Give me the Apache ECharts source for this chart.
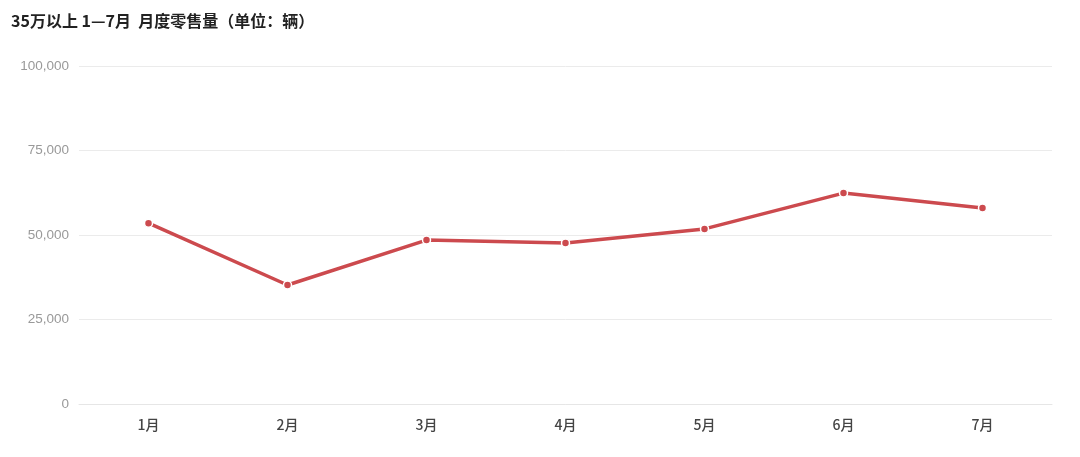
<!DOCTYPE html>
<html><head><meta charset="utf-8">
<script src="https://cdn.jsdelivr.net/npm/echarts@6/dist/echarts.min.js"></script>
<style>html,body{margin:0;padding:0;background:#fff}#c{width:1080px;height:457px}</style>
</head><body><div id="c"></div>
<script>
const categories = ['1月','2月','3月','4月','5月','6月','7月'];
const sales = [53500, 35200, 48500, 47600, 51800, 62400, 58000];
const titleText = '35万以上 1—7月  月度零售量（单位：辆）';
const chart = echarts.init(document.getElementById('c'));
chart.setOption({
  animation: false,
  title: { text: titleText, left: 6, top: 8, textStyle: { fontFamily: '"Noto Sans CJK SC", sans-serif', fontSize: 16, fontWeight: 'bold', color: '#222' } },
  grid: { left: 79, right: 28, top: 66, bottom: 53 },
  xAxis: {
    type: 'category', data: categories, boundaryGap: true,
    axisLine: { lineStyle: { color: '#e6e6e6' } }, axisTick: { show: false },
    axisLabel: { color: '#444', fontSize: 14, fontWeight: 500, margin: 14, fontFamily: '"Noto Sans CJK SC", sans-serif' }
  },
  yAxis: {
    type: 'value', min: 0, max: 100000, interval: 25000,
    axisLine: { show: false }, axisTick: { show: false },
    axisLabel: { color: '#999', fontSize: 13.5, margin: 10, fontFamily: '"Liberation Sans", sans-serif',
      formatter: v => v.toLocaleString('en-US') },
    splitLine: { lineStyle: { color: '#ebebeb' } }
  },
  series: [{
    type: 'line', data: sales, symbol: 'circle', symbolSize: 8,
    lineStyle: { color: '#cc4a4e', width: 3.5 },
    itemStyle: { color: '#cc4a4e', borderColor: '#fff', borderWidth: 1.5 }
  }]
});
</script></body></html>
